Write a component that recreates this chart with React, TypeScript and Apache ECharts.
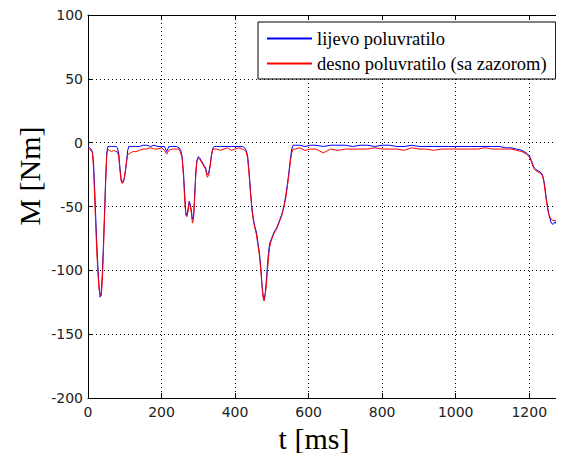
import React, { useEffect, useRef } from "react";
import * as echarts from "echarts";

const seriesNames = ["lijevo poluvratilo", "desno poluvratilo (sa zazorom)"];
const xTicks = [0, 200, 400, 600, 800, 1000, 1200];
const yTicks = [-200, -150, -100, -50, 0, 50, 100];

const timeMs = [
  0, 4, 8, 12, 15, 18, 21, 24, 27, 30,
  33, 36, 39, 42, 45, 48, 51, 54, 58, 64,
  70, 76, 80, 84, 87, 90, 93, 96, 99, 102,
  105, 108, 111, 116, 122, 130, 140, 150, 160, 170,
  180, 190, 200, 208, 214, 220, 230, 240, 248, 252,
  256, 260, 263, 266, 269, 272, 275, 278, 281, 284,
  287, 290, 293, 296, 300, 304, 308, 312, 316, 320,
  324, 328, 332, 336, 340, 344, 350, 360, 370, 380,
  390, 400, 410, 420, 426, 430, 434, 438, 442, 446,
  450, 454, 458, 462, 466, 470, 473, 476, 479, 482,
  485, 488, 491, 494, 498, 502, 506, 510, 514, 518,
  522, 526, 530, 534, 538, 542, 546, 550, 554, 558,
  565, 575, 590, 605, 620, 640, 660, 680, 700, 720,
  740, 760, 780, 800, 820, 840, 860, 880, 900, 920,
  940, 960, 980, 1000, 1020, 1040, 1060, 1080, 1100, 1120,
  1135, 1150, 1165, 1180, 1192, 1200, 1206, 1212, 1218, 1224,
  1230, 1236, 1240, 1244, 1248, 1252, 1256, 1260, 1265, 1270,
  1275, 1280, 1285, 1290, 1295, 1300,
];

const lijevo = [
  -3, -4, -5, -7, -15, -35, -58, -80, -98, -112,
  -121, -117, -103, -80, -55, -28, -8, -3, -3, -3,
  -3, -3, -4, -9, -20, -28, -31, -31, -28, -22,
  -14, -6, -3, -3, -3, -3, -3, -2, -2, -3,
  -2, -3, -3, -3, -7, -3, -3, -3, -4, -6,
  -11, -25, -40, -55, -57, -52, -46, -48, -53, -60,
  -58, -42, -24, -14, -11, -12, -14, -16, -18, -20,
  -25, -24, -18, -9, -4, -3, -3, -3, -3, -3,
  -3, -3, -3, -3, -4, -6, -10, -22, -38, -52,
  -60, -66, -70, -78, -86, -98, -110, -119, -123, -118,
  -108, -96, -86, -79, -76, -73, -70, -68, -66, -63,
  -60, -57, -53, -48, -41, -33, -24, -14, -5, -2,
  -2, -2, -3, -2, -2, -3, -2, -2, -2, -3,
  -2, -2, -3, -2, -2, -3, -3, -2, -3, -3,
  -3, -3, -3, -3, -3, -3, -3, -3, -3, -3,
  -4, -4, -5, -6, -8, -10, -14, -19, -21, -22,
  -23, -25, -30, -38, -47, -54, -59, -63, -64, -62,
  -64, -63, -61, -63, -66, -65,
];

const desno = [
  -5, -5, -6, -8, -20, -42, -65, -86, -102, -115,
  -119, -120, -108, -85, -58, -32, -10, -5, -6, -7,
  -6, -7, -7, -12, -22, -30, -32, -30, -27, -21,
  -15, -9, -9, -8, -7, -7, -6, -5, -5, -4,
  -5, -5, -4, -6, -9, -6, -5, -5, -5, -8,
  -12, -28, -45, -57, -58, -54, -47, -50, -55, -63,
  -60, -45, -26, -15, -12, -13, -15, -17, -19, -21,
  -27, -26, -19, -10, -5, -5, -5, -6, -5, -4,
  -6, -5, -4, -5, -6, -7, -12, -25, -40, -53,
  -62, -67, -72, -80, -88, -100, -112, -121, -124, -119,
  -112, -100, -90, -82, -77, -74, -71, -69, -67, -64,
  -61, -58, -54, -49, -43, -35, -26, -16, -8, -5,
  -5, -4, -6, -5, -5, -8, -5, -6, -5, -5,
  -5, -5, -4, -5, -5, -5, -6, -4, -5, -5,
  -6, -5, -5, -5, -5, -5, -5, -4, -5, -5,
  -5, -5, -6, -7, -9, -11, -15, -20, -22, -23,
  -24, -26, -31, -40, -48, -55, -58, -60, -61, -61,
  -62, -63, -60, -62, -66, -66,
];

const tickFont = { fontFamily: "DejaVu Sans", fontSize: 14, color: "#222" };
const gridLine = { show: true, lineStyle: { color: "#000", type: [1, 3] as any, width: 1 } };

export default function App() {
  const ref = useRef<HTMLDivElement>(null);
  useEffect(() => {
    if (!ref.current) return;
    const chart = echarts.init(ref.current, null, { renderer: "svg" });
    const xMin = xTicks[0];
    const yMin = yTicks[0];
    const xInt = xTicks[1] - xTicks[0];
    const yInt = yTicks[1] - yTicks[0];
    const axisLine = { show: true, onZero: false, lineStyle: { color: "#000", width: 1 } };
    const tick = { show: true, inside: true, length: 5, lineStyle: { color: "#000" } };
    chart.setOption({
      animation: false,
      backgroundColor: "#fff",
      grid: {
        left: 88, right: -2, top: 15, bottom: 63,
        containLabel: false, outerBoundsMode: "none",
      },
      xAxis: [
        {
          type: "value", min: xMin, max: 1300, interval: xInt,
          axisLine, axisTick: tick, splitLine: gridLine,
          axisLabel: {
            ...tickFont, margin: 7, showMaxLabel: false,
            formatter: (v: number) => String(v),
          },
        },
        {
          type: "value", position: "top", min: xMin, max: 1300, interval: xInt,
          axisLine, axisTick: tick, splitLine: { show: false }, axisLabel: { show: false },
        },
      ],
      yAxis: [
        {
          type: "value", min: yMin, max: yTicks[yTicks.length - 1], interval: yInt,
          axisLine, axisTick: tick, splitLine: gridLine,
          axisLabel: { ...tickFont, margin: 5, formatter: (v: number) => String(v) },
        },
        {
          type: "value", position: "right", min: yMin, max: yTicks[yTicks.length - 1], interval: yInt,
          axisLine, axisTick: tick, splitLine: { show: false }, axisLabel: { show: false },
        },
      ],
      legend: {
        orient: "vertical",
        left: 258,
        top: 22,
        icon: "rect",
        itemWidth: 45,
        itemHeight: 2,
        itemGap: 6,
        padding: [7, 9, 6, 9],
        backgroundColor: "#fff",
        borderColor: "#000",
        borderWidth: 1,
        borderRadius: 0,
        itemStyle: { borderWidth: 0 },
        textStyle: { fontFamily: "Liberation Serif", fontSize: 18.5, color: "#000", lineHeight: 18 },
        data: seriesNames,
      },
      series: [
        {
          name: seriesNames[0], type: "line", symbol: "none",
          lineStyle: { color: "#0000ff", width: 1 }, itemStyle: { color: "#0000ff" },
          data: timeMs.map((t, i) => [t, lijevo[i]]),
        },
        {
          name: seriesNames[1], type: "line", symbol: "none",
          lineStyle: { color: "#ff0000", width: 1 }, itemStyle: { color: "#ff0000" },
          data: timeMs.map((t, i) => [t, desno[i]]),
        },
      ],
      graphic: [
        {
          type: "text", x: 29, y: 176, rotation: Math.PI / 2,
          style: {
            text: "M [Nm]", fontFamily: "Liberation Serif", fontSize: 30, fill: "#000",
            textAlign: "center", textVerticalAlign: "middle",
          },
        },
        {
          type: "text", x: 314, y: 438,
          style: {
            text: "t [ms]", fontFamily: "Liberation Serif", fontSize: 30, fill: "#000",
            textAlign: "center", textVerticalAlign: "middle",
          },
        },
      ],
    });
    return () => chart.dispose();
  }, []);
  return <div ref={ref} style={{ width: 564, height: 461, margin: -8 }} />;
}
